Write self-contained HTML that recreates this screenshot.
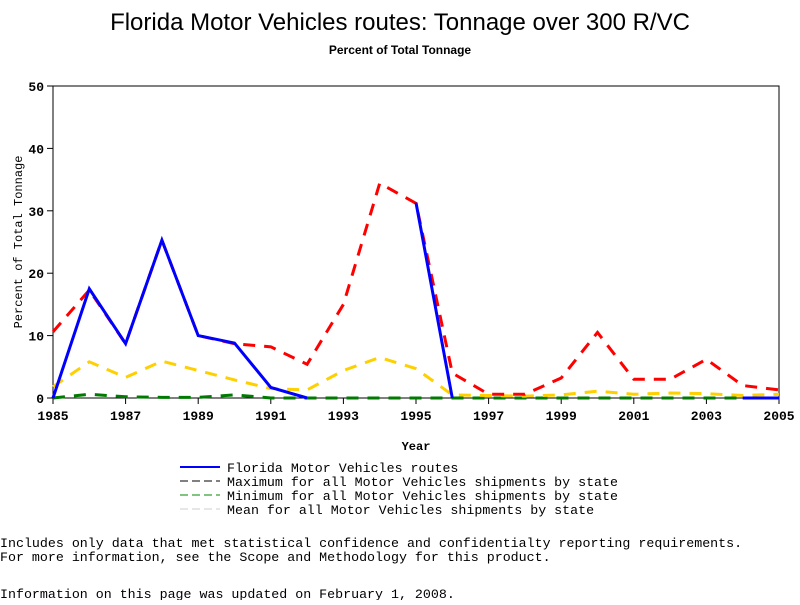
<!DOCTYPE html>
<html><head><meta charset="utf-8"><style>
body{margin:0;background:#fff;}
svg text{font-family:"Liberation Mono",monospace;}
</style></head><body>
<svg id="c" width="800" height="600" xmlns="http://www.w3.org/2000/svg">
<text x="400" y="30" text-anchor="middle" style="font-family:'Liberation Sans',sans-serif" font-size="24">Florida Motor Vehicles routes: Tonnage over 300 R/VC</text>
<text x="400" y="54" text-anchor="middle" style="font-family:'Liberation Sans',sans-serif" font-size="12" font-weight="bold">Percent of Total Tonnage</text>
<rect x="53" y="86" width="726" height="312" fill="none" stroke="#000"/>
<g id="axes"></g>
<g id="series"></g>
<text x="416" y="450" text-anchor="middle" font-size="12" font-weight="bold">Year</text>
<text transform="translate(22,242) rotate(-90)" text-anchor="middle" font-size="12">Percent of Total Tonnage</text>
<g font-size="13.3">
<line x1="180" y1="467" x2="220" y2="467" stroke="#00f" stroke-width="2"/>
<text x="227" y="472">Florida Motor Vehicles routes</text>
<line x1="180" y1="481" x2="220" y2="481" stroke="#000" stroke-dasharray="8,4"/>
<text x="227" y="486">Maximum for all Motor Vehicles shipments by state</text>
<line x1="180" y1="495" x2="220" y2="495" stroke="#080" stroke-dasharray="8,4"/>
<text x="227" y="500">Minimum for all Motor Vehicles shipments by state</text>
<line x1="180" y1="509" x2="220" y2="509" stroke="#ccc" stroke-dasharray="8,4"/>
<text x="227" y="514">Mean for all Motor Vehicles shipments by state</text>
</g>
<text x="0" y="547" font-size="13.3">Includes only data that met statistical confidence and confidentialty reporting requirements.</text>
<text x="0" y="561" font-size="13.3">For more information, see the Scope and Methodology for this product.</text>
<text x="0" y="598" font-size="13.3">Information on this page was updated on February 1, 2008.</text>
</svg>
<script>
const years=[1985,1986,1987,1988,1989,1990,1991,1992,1993,1994,1995,1996,1997,1998,1999,2000,2001,2002,2003,2004,2005];
const florida=[0,17.5,8.7,25.3,10,8.8,1.7,0,null,null,31.3,0,null,null,null,null,null,null,null,0,0];
const maxVals=[10.6,17.3,8.7,25.3,10,8.7,8.2,5.4,15,34.4,31.2,4,0.6,0.6,3.2,10.5,3,3,6.2,2,1.3];
const meanVals=[1.8,5.8,3.3,5.9,4.4,2.9,1.5,1.3,4.4,6.5,4.7,0.5,0.4,0.3,0.5,1.1,0.6,0.8,0.7,0.4,0.6];
const minVals=[0,0.6,0.2,0.1,0.1,0.5,0,0,0,0,0,0,0,0,0,0,0,0,0,0,0];
const yTicks=[0,10,20,30,40,50];
const xTicks=[1985,1987,1989,1991,1993,1995,1997,1999,2001,2003,2005];
const NS="http://www.w3.org/2000/svg";
const X=v=>53+(v-1985)*726/20, Y=v=>398-v*312/50;
const ax=document.getElementById('axes'), sg=document.getElementById('series');
function mk(t,a,p){const e=document.createElementNS(NS,t);for(const k in a)e.setAttribute(k,a[k]);p.appendChild(e);return e;}
yTicks.forEach(t=>{
 const l=mk('line',{x1:47,x2:53,y1:Y(t),y2:Y(t),stroke:'#000'},ax);
 
 
 const tx=mk('text',{x:44,y:Y(t)+5,'text-anchor':'end','font-size':13,'font-weight':'bold'},ax);tx.textContent=t;
 
 
});
xTicks.forEach(t=>{
 const l=mk('line',{x1:X(t),x2:X(t),y1:398,y2:404,stroke:'#000'},ax);
 
 
 const tx=mk('text',{x:X(t),y:420,'text-anchor':'middle','font-size':13,'font-weight':'bold'},ax);tx.textContent=t;
 
 
});
function line(vals,color,w,dash,name){
 let d='',pen=false;
 vals.forEach((v,i)=>{
  if(v===null){pen=false;return;}
  d+=(pen?'L':'M')+X(years[i])+','+Y(v)+' ';pen=true;
 });
 const p=mk('path',{d:d,fill:'none',stroke:color,'stroke-width':w},sg);
 if(dash)p.setAttribute('stroke-dasharray',dash);
 
 
}
line(minVals,'#007a00',3,'12,9','min-line');
line(meanVals,'#ffd000',3,'12,9','mean-line');
line(maxVals,'#ff0000',3,'12,9','max-line');
line(florida,'#0000ff',3,null,'florida-line');
</script>
</body></html>
